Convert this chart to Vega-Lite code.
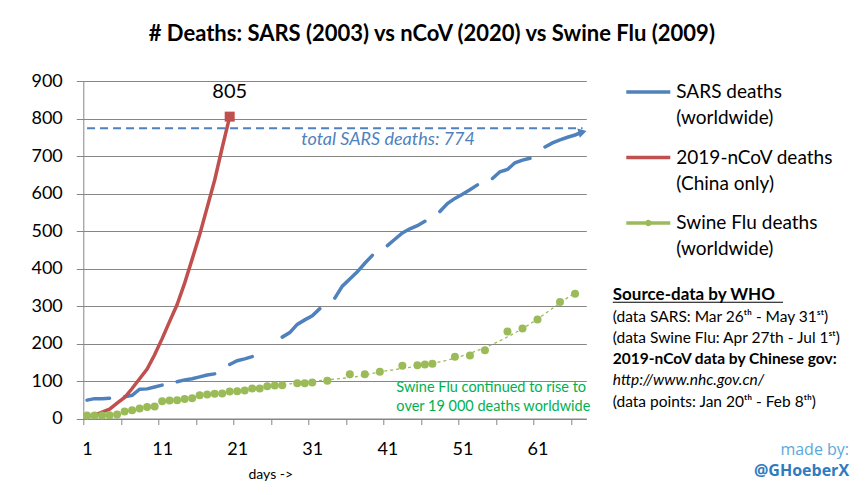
{
  "$schema": "https://vega.github.io/schema/vega-lite/v6.json",
  "width": 503,
  "height": 337.5,
  "autosize": "none",
  "padding": {"left": 83.3, "top": 81, "right": 278.7, "bottom": 76.5},
  "background": "white",
  "title": {
    "text": "# Deaths: SARS (2003) vs nCoV (2020) vs Swine Flu (2009)",
    "font": "Lato", "fontSize": 22, "fontWeight": "bold", "color": "black",
    "anchor": "middle", "dx": 97, "offset": 22
  },
  "config": {
    "view": {"stroke": null},
    "font": "Lato"
  },
  "datasets": {
    "deaths": [
      {"series": "SARS", "day": 1, "deaths": 49}, {"series": "SARS", "day": 2, "deaths": 53}, {"series": "SARS", "day": 3, "deaths": 53}, {"series": "SARS", "day": 4, "deaths": 54}, {"series": "SARS", "day": 5, "deaths": null},
      {"series": "SARS", "day": 6, "deaths": 58}, {"series": "SARS", "day": 7, "deaths": 62}, {"series": "SARS", "day": 8, "deaths": 78}, {"series": "SARS", "day": 9, "deaths": 79}, {"series": "SARS", "day": 10, "deaths": 84},
      {"series": "SARS", "day": 11, "deaths": 89}, {"series": "SARS", "day": 12, "deaths": null}, {"series": "SARS", "day": 13, "deaths": 98}, {"series": "SARS", "day": 14, "deaths": 103}, {"series": "SARS", "day": 15, "deaths": 106},
      {"series": "SARS", "day": 16, "deaths": 111}, {"series": "SARS", "day": 17, "deaths": 116}, {"series": "SARS", "day": 18, "deaths": 119}, {"series": "SARS", "day": 19, "deaths": null}, {"series": "SARS", "day": 20, "deaths": 144},
      {"series": "SARS", "day": 21, "deaths": 154}, {"series": "SARS", "day": 22, "deaths": 159}, {"series": "SARS", "day": 23, "deaths": 165}, {"series": "SARS", "day": 24, "deaths": null}, {"series": "SARS", "day": 25, "deaths": null},
      {"series": "SARS", "day": 26, "deaths": null}, {"series": "SARS", "day": 27, "deaths": 217}, {"series": "SARS", "day": 28, "deaths": 229}, {"series": "SARS", "day": 29, "deaths": 251}, {"series": "SARS", "day": 30, "deaths": 263},
      {"series": "SARS", "day": 31, "deaths": 274}, {"series": "SARS", "day": 32, "deaths": 293}, {"series": "SARS", "day": 33, "deaths": null}, {"series": "SARS", "day": 34, "deaths": 321}, {"series": "SARS", "day": 35, "deaths": 353},
      {"series": "SARS", "day": 36, "deaths": 372}, {"series": "SARS", "day": 37, "deaths": 391}, {"series": "SARS", "day": 38, "deaths": 414}, {"series": "SARS", "day": 39, "deaths": 435}, {"series": "SARS", "day": 40, "deaths": null},
      {"series": "SARS", "day": 41, "deaths": 461}, {"series": "SARS", "day": 42, "deaths": 478}, {"series": "SARS", "day": 43, "deaths": 495}, {"series": "SARS", "day": 44, "deaths": 506}, {"series": "SARS", "day": 45, "deaths": 514},
      {"series": "SARS", "day": 46, "deaths": 526}, {"series": "SARS", "day": 47, "deaths": null}, {"series": "SARS", "day": 48, "deaths": 552}, {"series": "SARS", "day": 49, "deaths": 573}, {"series": "SARS", "day": 50, "deaths": 587},
      {"series": "SARS", "day": 51, "deaths": 598}, {"series": "SARS", "day": 52, "deaths": 610}, {"series": "SARS", "day": 53, "deaths": 623}, {"series": "SARS", "day": 54, "deaths": null}, {"series": "SARS", "day": 55, "deaths": 640},
      {"series": "SARS", "day": 56, "deaths": 658}, {"series": "SARS", "day": 57, "deaths": 664}, {"series": "SARS", "day": 58, "deaths": 682}, {"series": "SARS", "day": 59, "deaths": 689}, {"series": "SARS", "day": 60, "deaths": 694},
      {"series": "SARS", "day": 61, "deaths": null}, {"series": "SARS", "day": 62, "deaths": 724}, {"series": "SARS", "day": 63, "deaths": 735}, {"series": "SARS", "day": 64, "deaths": 743}, {"series": "SARS", "day": 65, "deaths": 750},
      {"series": "SARS", "day": 66, "deaths": 756}, {"series": "SARS", "day": 67, "deaths": 764},
      {"series": "nCoV", "day": 1, "deaths": 6}, {"series": "nCoV", "day": 2, "deaths": 9}, {"series": "nCoV", "day": 3, "deaths": 17}, {"series": "nCoV", "day": 4, "deaths": 25}, {"series": "nCoV", "day": 5, "deaths": 41},
      {"series": "nCoV", "day": 6, "deaths": 56}, {"series": "nCoV", "day": 7, "deaths": 80}, {"series": "nCoV", "day": 8, "deaths": 106}, {"series": "nCoV", "day": 9, "deaths": 132}, {"series": "nCoV", "day": 10, "deaths": 170},
      {"series": "nCoV", "day": 11, "deaths": 213}, {"series": "nCoV", "day": 12, "deaths": 259}, {"series": "nCoV", "day": 13, "deaths": 304}, {"series": "nCoV", "day": 14, "deaths": 361}, {"series": "nCoV", "day": 15, "deaths": 425},
      {"series": "nCoV", "day": 16, "deaths": 490}, {"series": "nCoV", "day": 17, "deaths": 563}, {"series": "nCoV", "day": 18, "deaths": 636}, {"series": "nCoV", "day": 19, "deaths": 722}, {"series": "nCoV", "day": 20, "deaths": 805},
      {"series": "Swine", "day": 1, "deaths": 8}, {"series": "Swine", "day": 2, "deaths": 8}, {"series": "Swine", "day": 3, "deaths": 8}, {"series": "Swine", "day": 4, "deaths": 9}, {"series": "Swine", "day": 5, "deaths": 11},
      {"series": "Swine", "day": 6, "deaths": 19}, {"series": "Swine", "day": 7, "deaths": 22}, {"series": "Swine", "day": 8, "deaths": 27}, {"series": "Swine", "day": 9, "deaths": 31}, {"series": "Swine", "day": 10, "deaths": 32},
      {"series": "Swine", "day": 11, "deaths": 46}, {"series": "Swine", "day": 12, "deaths": 48}, {"series": "Swine", "day": 13, "deaths": 49}, {"series": "Swine", "day": 14, "deaths": 52}, {"series": "Swine", "day": 15, "deaths": 54},
      {"series": "Swine", "day": 16, "deaths": 62}, {"series": "Swine", "day": 17, "deaths": 64}, {"series": "Swine", "day": 18, "deaths": 66}, {"series": "Swine", "day": 19, "deaths": 67}, {"series": "Swine", "day": 20, "deaths": 72},
      {"series": "Swine", "day": 21, "deaths": 73}, {"series": "Swine", "day": 22, "deaths": 75}, {"series": "Swine", "day": 23, "deaths": 80}, {"series": "Swine", "day": 24, "deaths": 80}, {"series": "Swine", "day": 25, "deaths": 86},
      {"series": "Swine", "day": 26, "deaths": 88}, {"series": "Swine", "day": 27, "deaths": 89}, {"series": "Swine", "day": 29, "deaths": 94}, {"series": "Swine", "day": 30, "deaths": 94}, {"series": "Swine", "day": 31, "deaths": 96},
      {"series": "Swine", "day": 33, "deaths": 101}, {"series": "Swine", "day": 36, "deaths": 118}, {"series": "Swine", "day": 38, "deaths": 118}, {"series": "Swine", "day": 40, "deaths": 125}, {"series": "Swine", "day": 43, "deaths": 141},
      {"series": "Swine", "day": 45, "deaths": 142}, {"series": "Swine", "day": 46, "deaths": 144}, {"series": "Swine", "day": 47, "deaths": 146}, {"series": "Swine", "day": 50, "deaths": 165}, {"series": "Swine", "day": 52, "deaths": 168},
      {"series": "Swine", "day": 54, "deaths": 182}, {"series": "Swine", "day": 57, "deaths": 232}, {"series": "Swine", "day": 59, "deaths": 240}, {"series": "Swine", "day": 61, "deaths": 264}, {"series": "Swine", "day": 64, "deaths": 311},
      {"series": "Swine", "day": 66, "deaths": 333}
    ],
    "trend": [
      {"day": 20, "deaths": 72}, {"day": 27, "deaths": 90}, {"day": 33, "deaths": 103}, {"day": 37, "deaths": 112}, {"day": 40, "deaths": 124},
      {"day": 45, "deaths": 140}, {"day": 50, "deaths": 161}, {"day": 55, "deaths": 198}, {"day": 60, "deaths": 252}, {"day": 64, "deaths": 308}, {"day": 66, "deaths": 336}
    ]
  },
  "data": {"name": "deaths"},
  "encoding": {
    "x": {
      "field": "day", "type": "quantitative",
      "scale": {"domain": [0.5, 67.5], "nice": false, "zero": false},
      "axis": {
        "title": "days ->", "titleFont": "Lato", "titleFontSize": 14, "titleFontWeight": "normal", "titleColor": "black",
        "titleX": 187, "titleY": 56, "titleBaseline": "middle", "titleAnchor": "middle",
        "values": [0.5, 5.5, 10.5, 15.5, 20.5, 25.5, 30.5, 35.5, 40.5, 45.5, 50.5, 55.5, 60.5, 65.5],
        "labelExpr": "datum.value % 10 == 0.5 ? format(datum.value + 0.5, 'd') : ''",
        "labelOffset": 3.75, "labelFlush": false, "labelOverlap": false,
        "labelFont": "Lato", "labelFontSize": 18, "labelColor": "black", "labelPadding": 16,
        "tickSize": 6, "tickColor": "#868686", "domainColor": "#868686", "grid": false
      }
    },
    "y": {
      "field": "deaths", "type": "quantitative",
      "scale": {"domain": [0, 900], "nice": false},
      "axis": {
        "title": null, "values": [0, 100, 200, 300, 400, 500, 600, 700, 800, 900], "labelOverlap": false,
        "labelFont": "Lato", "labelFontSize": 18, "labelColor": "black", "labelPadding": 14,
        "tickSize": 7, "tickColor": "#868686", "domainColor": "#868686",
        "grid": true, "gridColor": "#868686", "gridWidth": 1
      }
    }
  },
  "layer": [
    {
      "transform": [{"filter": "datum.series == 'SARS'"}],
      "mark": {"type": "line", "strokeWidth": 3.5, "strokeCap": "round", "invalid": "break-paths-show-domains"},
      "encoding": {
        "color": {
          "field": "series", "type": "nominal",
          "scale": {"domain": ["SARS", "nCoV", "Swine"], "range": ["#4F81BD", "#C0504D", "#9BBB59"]},
          "legend": {
            "orient": "none", "legendX": 541, "legendY": -13, "title": null, "padding": 0,
            "symbolType": "stroke", "symbolSize": 1936, "symbolStrokeWidth": 3.5,
            "labelFont": "Lato", "labelFontSize": 19, "labelColor": "black",
            "labelBaseline": "middle", "labelOffset": 4, "labelLimit": 0, "rowPadding": 5.5,
            "labelExpr": "datum.label == 'SARS' ? ['SARS deaths', '(worldwide)'] : datum.label == 'nCoV' ? ['2019-nCoV deaths', '(China only)'] : ['Swine Flu deaths', '(worldwide)']",
            "encode": {
              "labels": {"update": {"lineHeight": {"value": 26}}},
              "symbols": {"update": {"shape": {"signal": "datum.value == 'Swine' ? 'M-1,0L1,0M0.07,0A0.07,0.07,0,1,1,-0.07,0A0.07,0.07,0,1,1,0.07,0' : 'stroke'"}}}
            }
          }
        }
      }
    },
    {
      "transform": [{"filter": "datum.series == 'nCoV' && datum.day == 20"}],
      "mark": {"type": "rule", "color": "#4F81BD", "strokeWidth": 2, "strokeDash": [8, 5]},
      "encoding": {"x": {"datum": 1}, "x2": {"datum": 67}, "y": {"datum": 774}}
    },
    {
      "transform": [{"filter": "datum.series == 'nCoV'"}],
      "mark": {"type": "line", "strokeWidth": 3.5, "strokeCap": "round"},
      "encoding": {
        "color": {"field": "series", "type": "nominal"}
      }
    },
    {
      "data": {"name": "trend"},
      "mark": {"type": "line", "color": "#9BBB59", "strokeWidth": 1.3, "strokeDash": [3, 3], "interpolate": "monotone"}
    },
    {
      "transform": [{"filter": "datum.series == 'Swine'"}],
      "mark": {"type": "point", "filled": true, "size": 64, "opacity": 1, "color": "#9BBB59"}
    },
    {
      "transform": [{"filter": "datum.series == 'nCoV' && datum.day == 20"}],
      "mark": {"type": "point", "shape": "square", "filled": true, "size": 100, "opacity": 1, "color": "#C0504D"}
    },
    {
      "transform": [{"filter": "datum.series == 'nCoV' && datum.day == 20"}],
      "mark": {"type": "text", "font": "Lato", "fontSize": 20, "color": "black", "dy": -25, "baseline": "middle"},
      "encoding": {
        "text": {"field": "deaths", "type": "quantitative"}
      }
    },
    {
      "transform": [{"filter": "datum.series == 'SARS' && datum.day == 67"}],
      "mark": {"type": "point", "shape": "triangle-right", "filled": true, "size": 90, "opacity": 1, "color": "#4F81BD", "angle": -15}
    },
    {
      "transform": [{"filter": "datum.series == 'nCoV' && datum.day == 20"}],
      "mark": {"type": "text", "text": "total SARS deaths: 774", "font": "Lato", "fontSize": 18, "fontStyle": "italic", "fontWeight": "normal", "color": "#4F81BD", "align": "center", "baseline": "middle"},
      "encoding": {"x": {"datum": 41.1}, "y": {"datum": 742.7}}
    },
    {
      "transform": [{"filter": "datum.series == 'nCoV' && datum.day == 20"}],
      "mark": {"type": "text", "text": ["Swine Flu continued to rise to", "over 19 000 deaths worldwide"], "font": "Lato", "fontSize": 14.5, "lineHeight": 18.4, "color": "#00B050", "align": "left", "baseline": "middle"},
      "encoding": {"x": {"datum": 42.2}, "y": {"datum": 80.5}}
    },
    {
      "transform": [{"filter": "datum.series == 'nCoV' && datum.day == 20"}],
      "mark": {"type": "text", "text": "Source-data by WHO", "font": "Lato", "fontSize": 17, "fontWeight": "bold", "color": "black", "align": "left", "baseline": "middle"},
      "encoding": {"x": {"datum": 71.03}, "y": {"datum": 329.3}}
    },
    {
      "transform": [{"filter": "datum.series == 'nCoV' && datum.day == 20"}],
      "mark": {"type": "rule", "color": "black", "strokeWidth": 1.2},
      "encoding": {"x": {"datum": 71.03}, "x2": {"datum": 93.7}, "y": {"datum": 310}}
    },
    {
      "transform": [{"filter": "datum.series == 'nCoV' && datum.day == 20"}],
      "mark": {"type": "text", "text": ["(data SARS: Mar 26ᵗʰ - May 31ˢᵗ)", "(data Swine Flu: Apr 27th - Jul 1ˢᵗ)"], "font": "Lato", "fontSize": 15.5, "lineHeight": 21.6, "color": "black", "align": "left", "baseline": "middle"},
      "encoding": {"x": {"datum": 71.03}, "y": {"datum": 271.5}}
    },
    {
      "transform": [{"filter": "datum.series == 'nCoV' && datum.day == 20"}],
      "mark": {"type": "text", "text": "2019-nCoV data by Chinese gov:", "font": "Lato", "fontSize": 15.5, "fontWeight": "bold", "color": "black", "align": "left", "baseline": "middle"},
      "encoding": {"x": {"datum": 71.03}, "y": {"datum": 157.9}}
    },
    {
      "transform": [{"filter": "datum.series == 'nCoV' && datum.day == 20"}],
      "mark": {"type": "text", "text": "http://www.nhc.gov.cn/", "font": "Lato", "fontSize": 15.5, "fontStyle": "italic", "color": "black", "align": "left", "baseline": "middle"},
      "encoding": {"x": {"datum": 71.03}, "y": {"datum": 102.7}}
    },
    {
      "transform": [{"filter": "datum.series == 'nCoV' && datum.day == 20"}],
      "mark": {"type": "text", "text": "(data points: Jan 20ᵗʰ - Feb 8ᵗʰ)", "font": "Lato", "fontSize": 15.5, "color": "black", "align": "left", "baseline": "middle"},
      "encoding": {"x": {"datum": 71.03}, "y": {"datum": 44.8}}
    },
    {
      "transform": [{"filter": "datum.series == 'nCoV' && datum.day == 20"}],
      "mark": {"type": "text", "text": "made by:", "font": "Open Sans", "fontSize": 16, "color": "#5BA7DC", "align": "right", "baseline": "middle"},
      "encoding": {"x": {"datum": 102.5}, "y": {"datum": -84}}
    },
    {
      "transform": [{"filter": "datum.series == 'nCoV' && datum.day == 20"}],
      "mark": {"type": "text", "text": "@GHoeberX", "font": "Open Sans", "fontSize": 16, "fontWeight": "bold", "color": "#2F7BC0", "align": "right", "baseline": "middle"},
      "encoding": {"x": {"datum": 102.5}, "y": {"datum": -139.2}}
    }
  ]
}
